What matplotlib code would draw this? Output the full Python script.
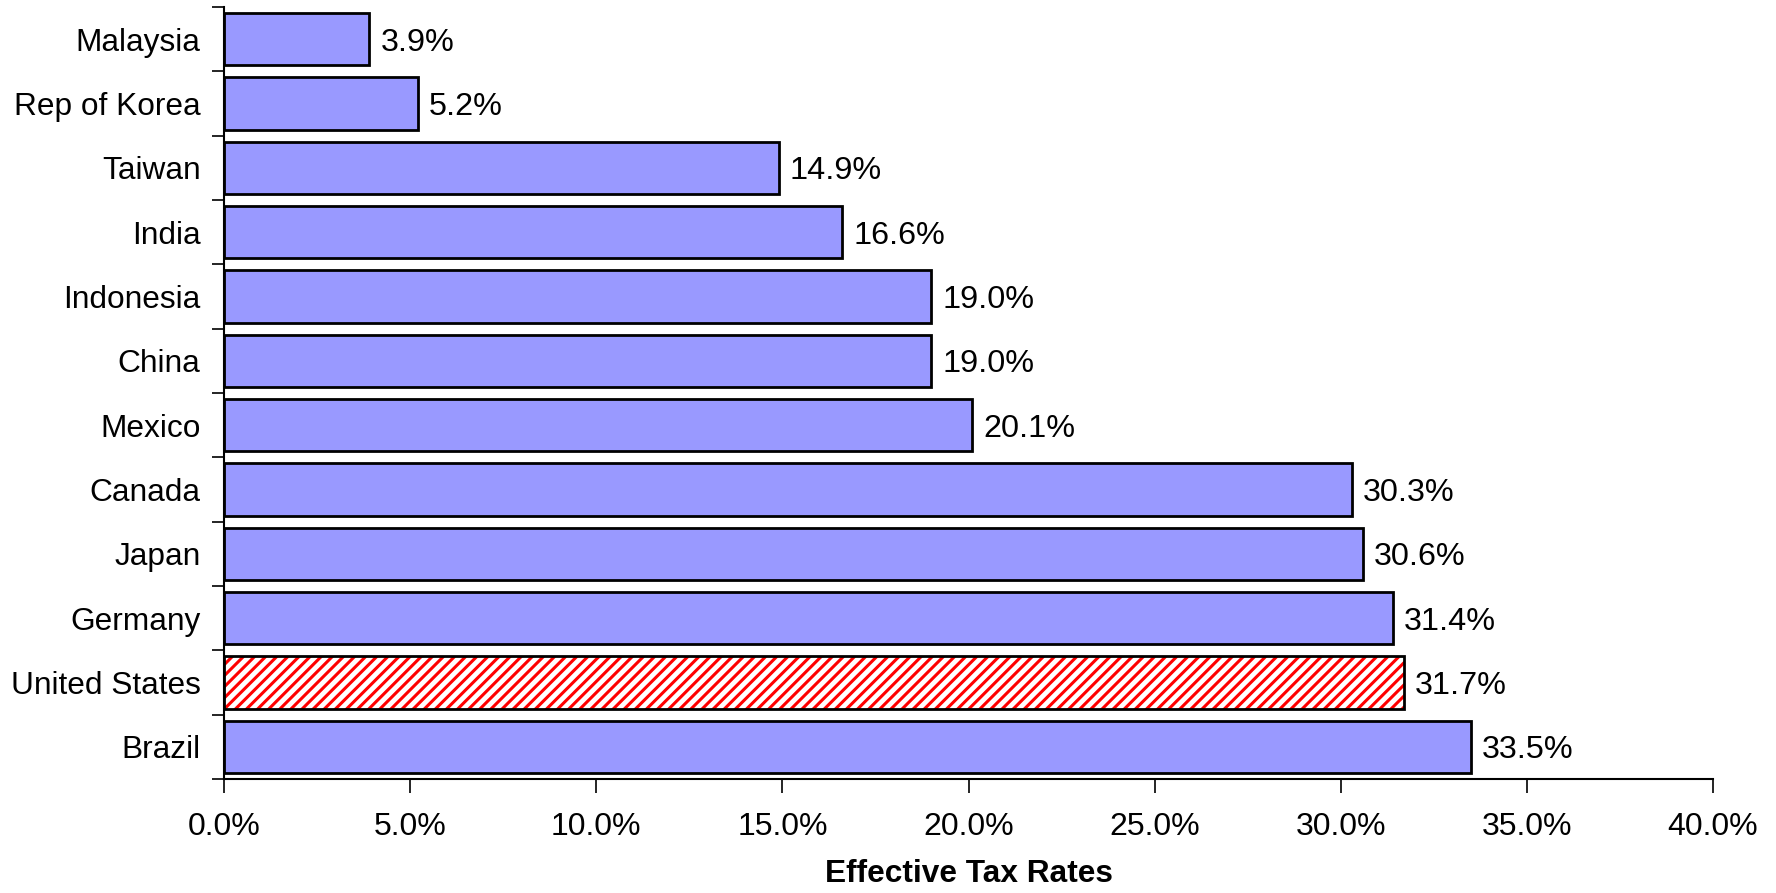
import matplotlib.pyplot as plt
import numpy as np

countries = ['Malaysia', 'Rep of Korea', 'Taiwan', 'India', 'Indonesia', 'China',
             'Mexico', 'Canada', 'Japan', 'Germany', 'United States', 'Brazil']
rates = [3.9, 5.2, 14.9, 16.6, 19.0, 19.0, 20.1, 30.3, 30.6, 31.4, 31.7, 33.5]
highlight = 'United States'

plt.rcParams['font.family'] = ['Liberation Sans', 'DejaVu Sans']
plt.rcParams['hatch.linewidth'] = 2.2

fig = plt.figure(figsize=(17.76, 8.93), dpi=100)
ax = fig.add_axes([224/1776, 1 - 779/893, (1713-224)/1776, (779-7)/893])

pos = np.arange(len(countries))
for i, (c, r) in enumerate(zip(countries, rates)):
    if c == highlight:
        # red hatch on white, then the black outline on top
        ax.barh(i, r, height=0.81, color='white', edgecolor='red',
                linewidth=0, hatch='///')
        ax.barh(i, r, height=0.81, fill=False, edgecolor='black', linewidth=2)
    else:
        ax.barh(i, r, height=0.81, color='#9999FF', edgecolor='black', linewidth=2)
    ax.text(r + 0.3, i, f'{r:.1f}%', va='center_baseline', ha='left', fontsize=23.3)

ax.set_ylim(len(countries) - 0.5, -0.5)
ax.set_xlim(0, 40)
ax.set_yticks(pos)
ax.set_yticklabels(countries, fontsize=22.8)
ax.set_yticks(np.arange(-0.5, len(countries), 1), minor=True)
ax.tick_params(axis='y', which='major', length=0, pad=17)
ax.tick_params(axis='y', which='minor', length=9, width=1.2, direction='out')

xt = np.arange(0, 41, 5)
ax.set_xticks(xt)
ax.set_xticklabels([f'{v:.1f}%' for v in xt], fontsize=23)
ax.tick_params(axis='x', length=10, width=1.2, direction='out', pad=14)
ax.set_xlabel('Effective Tax Rates', fontsize=22.8, fontweight='bold', labelpad=12)

for s in ['top', 'right']:
    ax.spines[s].set_visible(False)
for s in ['left', 'bottom']:
    ax.spines[s].set_linewidth(1.5)

fig.savefig('out.png', dpi=100)
